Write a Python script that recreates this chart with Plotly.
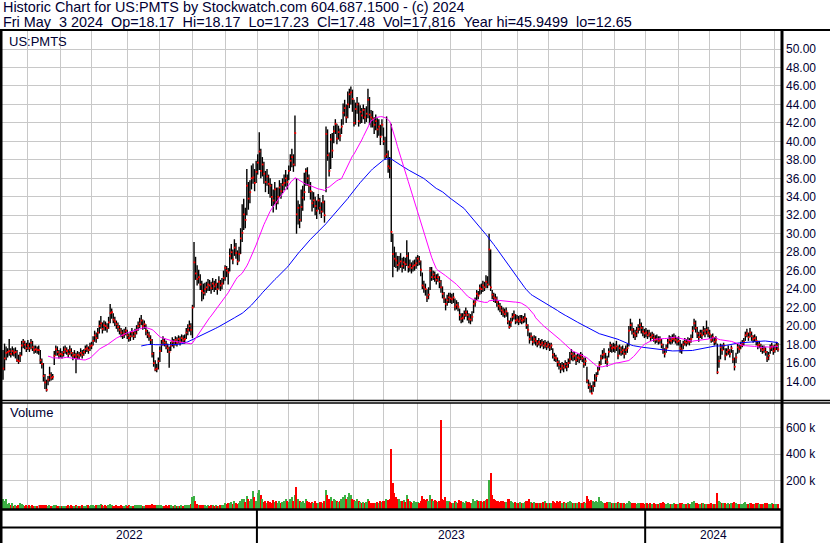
import plotly.graph_objects as go
import pandas as pd

# ---------------- DATA ----------------
close_2022 = [
    15.4, 16.5, 17.1, 17.2, 17.3, 17.0, 17.3, 17.1, 17.2, 16.3, 16.2, 16.8, 17.9, 18.3, 18.0, 17.6,
    17.9, 17.6, 18.2, 17.7, 17.4, 17.5, 17.4, 17.4, 16.3, 15.9, 14.6, 13.9, 13.1, 14.2, 14.7, 14.4, 14.5, 16.8, 17.5, 17.2, 16.9,
    17.0, 16.9, 17.2, 17.5, 17.3, 17.0, 17.4, 17.1, 16.8, 16.9, 16.6, 16.9, 16.8, 17.1, 16.9, 17.2, 17.5, 17.6, 17.4, 17.8,
    17.9, 18.4, 19.0, 18.7, 19.3, 20.0, 20.3, 19.7, 20.1, 20.0, 19.8, 20.4, 21.4, 21.5, 20.7, 20.5, 20.2, 19.9, 19.6, 19.3, 19.0, 19.2, 19.5,
    19.0, 18.7, 18.9, 19.3, 18.9, 19.2, 19.6, 20.0, 20.3, 20.6, 20.0, 20.2, 19.5, 19.1, 18.9, 18.5, 17.0, 16.0, 15.3, 15.4, 16.2,
    17.3, 18.0, 18.4, 18.2, 17.9, 17.6, 17.2, 17.9, 18.3, 18.0, 18.5, 18.2, 18.6, 18.3, 18.7, 18.5, 18.6, 19.3, 19.6, 20.0, 19.6,
    22.0, 26.9, 25.7, 25.1, 25.3, 24.5, 23.8, 23.6, 24.0, 24.2, 24.5, 24.4, 24.1, 24.6, 24.3, 24.5, 24.0, 24.8, 24.4, 24.6, 25.2,
    26.3, 26.0, 25.8, 27.6, 28.0, 27.2, 28.5, 27.9, 27.0, 27.8, 29.5, 30.1, 32.1, 31.5, 35.2, 33.8, 34.5, 36.0, 36.1, 35.5, 36.7,
]
high_2022 = [
    17.4, 18.1, 17.8, 17.6, 18.6, 17.6, 17.8, 17.6, 17.7, 17.4, 16.9, 17.2, 18.4, 18.6, 18.4, 18.2,
    18.5, 18.2, 18.6, 18.4, 17.9, 17.9, 17.8, 17.9, 17.4, 16.5, 16.0, 14.8, 14.2, 14.6, 15.6, 15.0, 14.8, 17.3, 17.9, 17.8, 17.4,
    17.6, 17.3, 17.8, 17.9, 17.7, 17.5, 17.9, 17.6, 17.2, 17.4, 17.1, 17.3, 17.2, 17.6, 17.4, 17.5, 17.9, 18.0, 17.8, 18.2,
    18.3, 18.9, 19.5, 19.3, 19.8, 20.6, 21.1, 20.4, 20.6, 20.5, 20.3, 21.0, 22.4, 21.9, 21.4, 21.0, 20.6, 20.4, 20.1, 19.8, 19.6, 19.7, 19.9,
    19.6, 19.2, 19.4, 19.8, 19.4, 19.7, 20.1, 20.5, 20.9, 21.2, 20.7, 20.6, 20.2, 19.6, 19.4, 19.0, 18.6, 17.2, 16.3, 15.9, 16.6,
    17.8, 18.5, 18.9, 18.7, 18.4, 18.1, 17.8, 18.3, 18.8, 18.6, 18.9, 18.8, 19.0, 18.9, 19.1, 19.0, 19.1, 19.8, 20.2, 20.6, 20.3,
    22.3, 29.1, 27.5, 26.6, 26.1, 25.6, 24.9, 24.6, 24.7, 24.8, 25.1, 25.0, 24.8, 25.2, 24.9, 25.1, 24.7, 25.4, 25.0, 25.2, 26.0,
    26.6, 26.5, 26.3, 28.4, 28.9, 28.3, 29.4, 29.0, 28.2, 28.6, 30.6, 33.2, 33.8, 32.8, 37.0, 35.6, 35.8, 37.4, 37.6, 37.0, 37.9,
]
low_2022 = [
    14.2, 15.2, 16.3, 16.6, 16.8, 16.6, 16.8, 16.7, 16.5, 16.1, 15.9, 16.1, 16.8, 17.6, 17.5, 17.2,
    17.4, 17.2, 17.5, 17.3, 17.0, 17.1, 17.0, 16.9, 15.9, 15.4, 14.0, 13.2, 12.9, 13.6, 14.0, 14.1, 14.2, 15.8, 16.8, 16.8, 16.5,
    16.6, 16.5, 16.7, 17.0, 16.9, 16.6, 16.9, 16.7, 16.3, 16.5, 14.9, 16.4, 16.4, 16.7, 16.5, 16.8, 17.0, 17.2, 17.0, 17.3,
    17.5, 17.9, 18.3, 18.2, 18.6, 19.2, 19.7, 19.2, 19.5, 19.5, 19.3, 19.7, 20.3, 20.8, 20.3, 20.0, 19.7, 19.4, 19.1, 18.8, 18.6, 18.7, 19.0,
    18.6, 18.3, 18.4, 18.8, 18.5, 18.7, 19.1, 19.5, 19.8, 20.1, 19.6, 19.7, 19.0, 18.7, 18.4, 18.0, 16.6, 15.6, 15.1, 15.0, 15.3,
    16.1, 17.2, 17.9, 17.8, 17.5, 17.1, 15.5, 17.3, 17.8, 17.6, 17.9, 17.8, 18.1, 17.9, 18.2, 18.1, 18.1, 18.6, 19.0, 19.4, 19.0,
    18.7, 22.0, 25.0, 24.4, 24.6, 23.9, 22.7, 22.9, 23.3, 23.6, 23.8, 23.8, 23.5, 23.9, 23.7, 23.9, 23.4, 24.0, 23.8, 24.0, 24.5,
    24.9, 25.3, 24.5, 25.9, 27.2, 26.7, 27.6, 27.3, 26.6, 27.0, 27.8, 29.1, 30.4, 30.6, 32.0, 32.6, 33.3, 34.8, 35.4, 34.6, 35.5,
]
close_2023 = [
    37.7, 38.9, 36.8, 37.5, 36.5, 35.6, 36.2, 35.4, 35.2, 34.0, 33.6, 34.8, 33.4, 34.0, 35.0, 34.6, 35.3, 35.5, 36.0, 35.6,
    36.8, 37.9, 38.3, 37.5, 40.9, 32.1, 32.8, 31.5, 32.9, 33.9, 34.5, 36.8, 36.0, 35.2, 34.6, 33.3, 33.6, 33.0, 32.5,
    33.6, 32.8, 32.4, 33.4, 32.0, 40.8, 38.5, 36.8, 40.2, 39.0, 41.1, 41.9, 40.3, 41.0, 40.6, 41.6, 43.1, 43.6, 42.6, 44.0, 45.1, 45.3, 44.6,
    42.0, 43.5, 44.0, 42.2, 43.2, 42.8, 43.4, 42.6, 43.0, 44.5, 42.9, 42.6, 42.4, 41.8, 42.2, 41.3, 41.6, 40.5, 41.8,
    40.0, 38.4, 38.6, 37.3, 37.1, 30.2, 27.8, 27.3, 27.1, 26.6, 26.8, 27.0, 26.5, 26.9, 26.7, 27.6, 26.4, 26.6, 26.3, 26.5, 26.6, 26.8,
    27.3, 27.0, 26.1, 24.4, 24.2, 24.0, 23.1, 23.4, 26.0, 25.3, 25.6, 25.3, 25.0, 25.3, 24.8, 24.2, 23.5, 23.0, 22.4, 22.8, 23.1,
    23.0, 22.9, 23.1, 22.1, 22.3, 22.1, 21.2, 20.8, 20.9, 21.2, 21.5, 21.2, 20.8, 20.7, 21.0, 22.4, 22.6, 23.5, 23.3, 24.1,
    24.0, 24.4, 24.2, 24.8, 24.5, 28.3, 24.2, 23.4, 23.1, 23.0, 22.6, 22.2, 22.0, 21.7, 21.5, 21.3, 21.6, 20.5, 19.9, 20.4, 21.0, 21.2, 20.6,
    20.7, 20.5, 20.8, 20.6, 20.7, 20.9, 20.1, 19.6, 18.6, 18.9, 18.3, 18.6, 18.4, 18.1, 18.3, 18.0, 18.2, 17.9, 18.1, 17.8,
    18.0, 17.7, 17.9, 16.9, 16.6, 16.5, 16.1, 15.8, 15.4, 15.7, 15.5, 15.9, 15.6, 16.0, 16.4, 17.0, 16.7, 16.8, 16.3, 16.6, 16.5, 16.8,
    16.5, 15.9, 16.2, 14.1, 13.6, 13.2, 12.7, 13.5, 14.1, 14.6, 15.2, 15.8, 16.5, 16.9, 17.0, 16.4, 16.1, 17.2, 17.9, 17.6, 17.7,
    17.6, 17.8, 16.8, 17.6, 17.2, 17.4, 17.0, 17.4, 17.6, 19.5, 20.1, 19.6, 19.2, 19.0, 19.4, 19.7, 20.1, 19.8, 19.4, 19.2,
]
high_2023 = [
    38.6, 41.0, 39.2, 38.3, 37.8, 36.8, 37.0, 36.4, 36.0, 35.4, 34.8, 35.6, 35.0, 35.0, 35.8, 35.5, 36.0, 36.4, 36.9, 36.4,
    37.4, 38.6, 39.2, 38.6, 42.8, 36.0, 33.6, 33.2, 34.8, 35.2, 36.6, 37.1, 37.2, 36.4, 35.6, 34.6, 34.5, 34.0, 33.6,
    34.3, 33.9, 33.4, 34.2, 33.6, 41.6, 41.3, 38.8, 40.8, 40.9, 41.7, 42.4, 41.9, 41.7, 41.4, 42.4, 44.1, 44.5, 44.0, 45.4, 45.7, 45.95, 45.6,
    44.5, 44.2, 44.8, 44.2, 43.9, 43.6, 44.0, 43.6, 43.8, 45.7, 44.8, 43.4, 43.3, 42.6, 42.9, 42.5, 42.4, 41.8, 42.4,
    41.5, 40.5, 42.7, 39.0, 38.3, 41.9, 30.0, 28.6, 28.0, 27.6, 27.6, 27.9, 27.4, 27.5, 27.4, 29.3, 28.0, 27.2, 26.9, 27.1, 27.2, 27.5,
    27.7, 27.6, 27.1, 25.8, 24.9, 24.6, 24.0, 24.2, 26.4, 26.4, 26.0, 25.9, 25.6, 25.7, 25.4, 25.0, 24.3, 23.7, 23.0, 23.4, 23.6,
    23.6, 23.5, 23.6, 23.0, 22.8, 22.6, 21.9, 21.4, 21.4, 21.7, 22.0, 21.7, 21.4, 21.3, 21.6, 22.8, 23.1, 23.9, 23.8, 24.5,
    24.6, 24.9, 24.8, 25.5, 25.4, 30.0, 28.3, 23.9, 23.6, 23.5, 23.2, 22.7, 22.5, 22.2, 22.0, 21.9, 22.0, 21.5, 20.6, 20.9, 21.4, 21.7, 21.3,
    21.2, 21.1, 21.2, 21.2, 21.1, 21.4, 20.9, 20.2, 19.3, 19.3, 18.9, 19.0, 18.9, 18.5, 18.7, 18.5, 18.6, 18.4, 18.5, 18.3,
    18.4, 18.2, 18.2, 17.6, 17.1, 16.9, 16.6, 16.3, 16.0, 16.1, 16.0, 16.3, 16.1, 16.5, 17.2, 17.5, 17.2, 17.2, 16.9, 17.0, 17.0, 17.2,
    17.0, 16.6, 16.6, 15.6, 14.2, 13.9, 13.6, 14.0, 14.8, 15.0, 15.6, 16.2, 16.9, 17.4, 17.6, 17.1, 16.8, 17.6, 18.3, 18.1, 18.2,
    18.1, 18.4, 17.9, 18.0, 17.8, 17.9, 17.6, 17.9, 18.1, 20.0, 20.8, 20.4, 19.8, 19.6, 19.9, 20.2, 20.8, 20.4, 20.0, 19.7,
]
low_2023 = [
    36.4, 36.9, 36.0, 36.2, 35.4, 34.5, 35.2, 34.3, 33.9, 33.0, 32.3, 33.2, 32.6, 33.2, 34.0, 33.8, 34.4, 34.7, 35.1, 34.8,
    35.8, 36.8, 37.2, 36.7, 37.3, 30.0, 31.0, 30.6, 31.3, 32.5, 33.6, 35.2, 35.2, 34.4, 33.7, 32.4, 32.8, 32.0, 31.6,
    32.6, 32.1, 31.7, 32.3, 31.2, 34.5, 37.9, 36.2, 37.0, 38.2, 39.8, 40.8, 39.7, 40.2, 40.0, 40.8, 41.8, 42.7, 42.0, 42.5, 43.6, 44.0, 43.2,
    41.6, 41.8, 43.0, 41.6, 41.9, 42.0, 42.4, 41.9, 42.1, 42.5, 41.8, 41.5, 41.5, 40.8, 41.2, 40.4, 40.6, 39.6, 40.6,
    39.6, 38.0, 38.2, 36.6, 36.0, 29.1, 25.3, 26.4, 26.3, 25.9, 26.1, 26.3, 25.8, 26.2, 26.0, 26.5, 25.8, 25.9, 25.7, 25.9, 26.0, 26.2,
    26.5, 26.6, 25.4, 24.0, 23.6, 23.3, 22.6, 22.9, 23.9, 24.9, 25.0, 24.8, 24.5, 24.8, 24.1, 23.6, 23.0, 22.5, 21.7, 22.2, 22.5,
    22.5, 22.4, 22.5, 21.7, 21.8, 21.6, 20.6, 20.3, 20.4, 20.7, 21.0, 20.6, 20.3, 20.2, 20.5, 21.4, 22.1, 22.8, 22.9, 23.4,
    23.5, 23.7, 23.8, 24.1, 24.1, 24.4, 23.8, 22.9, 22.6, 22.5, 22.1, 21.7, 21.5, 21.2, 21.0, 20.9, 21.0, 20.2, 19.7, 19.9, 20.5, 20.7, 20.2,
    20.3, 20.1, 20.3, 20.2, 20.3, 20.4, 19.7, 18.9, 18.1, 18.4, 17.9, 18.1, 17.9, 17.7, 17.9, 17.6, 17.8, 17.5, 17.6, 17.4,
    17.6, 17.3, 17.4, 16.5, 16.2, 16.1, 15.6, 15.3, 14.9, 15.2, 15.0, 15.4, 15.1, 15.5, 15.9, 16.3, 16.2, 16.3, 15.8, 16.1, 16.0, 16.3,
    16.1, 15.5, 15.7, 13.8, 13.2, 12.8, 12.65, 12.9, 13.4, 14.0, 14.7, 15.2, 15.8, 16.4, 16.5, 15.9, 15.6, 16.6, 17.2, 17.1, 17.2,
    17.1, 17.3, 16.4, 16.9, 16.8, 16.9, 16.5, 16.9, 17.1, 17.8, 19.5, 19.1, 18.7, 18.5, 18.8, 19.2, 19.5, 19.2, 18.9, 18.7,
]
close_2024 = [
    19.3, 19.0, 19.2, 18.8, 19.0, 18.7, 18.5, 18.6, 18.4, 18.5, 18.0, 17.4, 17.0, 17.6, 18.2, 18.5, 18.4, 18.6, 18.7, 18.5, 18.3,
    18.4, 17.6, 17.4, 18.0, 18.3, 18.2, 18.4, 18.3, 18.6, 19.5, 20.3, 19.8, 19.2, 18.8, 19.2, 19.0, 19.5, 19.2, 19.6, 19.3,
    19.1, 18.5, 18.8, 18.3, 18.5, 15.0, 16.2, 17.7, 17.4, 17.9, 16.8, 17.2, 17.4, 17.0, 17.6, 16.4, 15.6, 16.6, 17.7, 17.5,
    17.9, 18.1, 18.3, 19.0, 19.2, 18.8, 19.3, 18.9, 18.6, 18.7, 18.4, 17.9, 18.0, 17.6, 17.4, 17.5, 17.2, 16.5, 16.8, 17.6, 17.8, 17.3,
    17.5, 17.9, 17.48,
]
high_2024 = [
    19.8, 19.6, 19.6, 19.3, 19.4, 19.2, 19.0, 19.1, 18.9, 18.9, 18.6, 18.1, 17.6, 18.0, 18.6, 19.0, 18.9, 19.1, 19.2, 19.0, 18.8,
    18.9, 18.5, 18.1, 18.4, 18.7, 18.6, 18.8, 18.7, 19.1, 20.0, 20.8, 20.6, 19.9, 19.4, 19.6, 19.6, 20.0, 19.8, 20.6, 19.9,
    19.6, 19.1, 19.2, 18.8, 18.9, 18.1, 16.8, 18.1, 18.0, 18.2, 17.6, 17.6, 17.9, 17.5, 17.9, 17.4, 16.6, 17.1, 18.1, 18.0,
    18.3, 18.5, 18.7, 19.4, 19.7, 19.3, 19.8, 19.4, 19.0, 19.1, 18.9, 18.4, 18.4, 18.1, 17.9, 17.9, 17.7, 17.3, 17.2, 18.0, 18.2, 17.9,
    18.0, 18.3, 18.17,
]
low_2024 = [
    18.8, 18.6, 18.8, 18.4, 18.6, 18.3, 18.1, 18.2, 18.0, 18.1, 17.6, 17.0, 16.6, 17.1, 17.6, 18.1, 18.0, 18.1, 18.3, 18.1, 17.9,
    17.9, 17.1, 17.0, 17.5, 17.9, 17.8, 18.0, 17.9, 18.2, 18.7, 19.6, 19.3, 18.7, 18.3, 18.7, 18.6, 19.0, 18.8, 19.1, 18.8,
    18.6, 18.2, 18.3, 17.9, 18.0, 14.8, 15.5, 16.4, 16.9, 17.4, 16.3, 16.8, 16.9, 16.6, 17.1, 16.0, 15.2, 16.0, 17.0, 17.1,
    17.5, 17.7, 17.9, 18.4, 18.8, 18.4, 18.8, 18.4, 18.2, 18.3, 17.9, 17.5, 17.6, 17.2, 17.0, 17.1, 16.8, 16.1, 16.3, 17.0, 17.3, 16.9,
    17.1, 17.4, 17.23,
]
# volume in thousands of shares
volk_2022 = [
    58, 45, 60, 22, 30, 12, 25, 8, 10, 6, 14, 25, 20, 12, 8, 10,
    6, 9, 5, 12, 8, 4, 6, 9, 14, 10, 16, 12, 9, 7, 11, 6, 8, 14, 9, 7, 5,
    6, 4, 8, 5, 7, 9, 6, 10, 8, 5, 12, 7, 4, 6, 9, 5, 8, 14, 10, 6,
    9, 12, 8, 15, 11, 14, 18, 9, 7, 12, 8, 16, 20, 10, 8, 6, 9, 5, 7, 10, 6, 8, 12,
    7, 9, 5, 8, 6, 10, 12, 9, 15, 11, 8, 6, 10, 14, 9, 12, 18, 16, 13, 10, 14,
    12, 10, 8, 6, 9, 7, 16, 11, 8, 6, 9, 7, 5, 8, 10, 6, 9, 14, 12, 10, 20,
    76, 84, 40, 18, 12, 10, 14, 9, 12, 8, 10, 6, 9, 12, 7, 10, 8, 6, 11, 9, 14,
    25, 22, 30, 28, 38, 22, 40, 26, 20, 24, 45, 60, 55, 38, 80, 60, 42, 58, 122, 70, 45,
]
volk_2023 = [
    100, 128, 85, 60, 35, 40, 28, 45, 38, 30, 50, 35, 42, 30, 45, 28, 35, 40, 60, 45,
    38, 55, 70, 45, 90, 150, 60, 45, 38, 42, 30, 60, 40, 32, 28, 35, 25, 40, 30,
    28, 32, 35, 25, 40, 130, 90, 55, 70, 45, 60, 50, 40, 35, 45, 55, 70, 90, 60, 75, 100, 85, 60,
    50, 45, 60, 40, 35, 30, 38, 28, 32, 55, 40, 30, 25, 30, 28, 35, 30, 40, 35,
    40, 45, 60, 50, 55, 435, 180, 100, 70, 60, 55, 45, 40, 50, 38, 85, 60, 40, 35, 30, 45, 38,
    35, 30, 45, 80, 60, 50, 55, 40, 90, 60, 45, 50, 40, 35, 45, 660, 60, 50, 70, 45, 40,
    35, 30, 28, 45, 38, 30, 50, 45, 35, 30, 40, 32, 38, 30, 28, 60, 45, 50, 40, 45,
    40, 35, 45, 50, 60, 200, 255, 90, 60, 50, 45, 40, 35, 45, 40, 38, 35, 60, 55, 40, 35, 30, 38,
    30, 28, 35, 30, 25, 32, 40, 45, 55, 38, 30, 35, 28, 30, 25, 30, 28, 35, 40, 30,
    25, 30, 28, 45, 35, 30, 40, 38, 45, 30, 35, 28, 30, 32, 40, 35, 28, 25, 30, 28, 35, 30,
    30, 35, 28, 80, 60, 45, 50, 40, 35, 45, 38, 70, 40, 35, 30, 28, 32, 38, 35, 30, 28,
    25, 30, 35, 28, 30, 25, 28, 22, 30, 40, 35, 30, 25, 28, 22, 30, 28, 25, 30, 22,
]
volk_2024 = [
    25, 30, 22, 28, 20, 25, 18, 22, 20, 25, 30, 35, 28, 22, 25, 20, 18, 22, 25, 20, 18,
    22, 28, 25, 20, 18, 22, 25, 20, 22, 35, 40, 30, 25, 22, 20, 25, 28, 22, 20, 18,
    20, 25, 22, 18, 20, 100, 45, 35, 28, 25, 30, 22, 25, 20, 28, 30, 35, 25, 22, 20,
    18, 20, 25, 35, 22, 20, 25, 30, 22, 18, 25, 30, 20, 22, 18, 20, 25, 28, 22, 20, 25, 18,
    20, 22, 17.8,
]
nyse_holidays = ["2022-05-30", "2022-06-20", "2022-07-04", "2022-09-05", "2022-11-24", "2022-12-26",
                 "2023-01-02", "2023-01-16", "2023-02-20", "2023-04-07", "2023-05-29", "2023-06-19",
                 "2023-07-04", "2023-09-04", "2023-11-23", "2023-12-25", "2024-01-01", "2024-01-15",
                 "2024-02-19", "2024-03-29"]
price_ticks = [14, 16, 18, 20, 22, 24, 26, 28, 30, 32, 34, 36, 38, 40, 42, 44, 46, 48, 50]
volume_ticks = [200000, 400000, 600000]
volume_tick_text = ["200 k", "400 k", "600 k"]
header_1 = "Historic Chart for US:PMTS by Stockwatch.com 604.687.1500 - (c) 2024"
header_2 = "Fri May  3 2024  Op=18.17  Hi=18.17  Lo=17.23  Cl=17.48  Vol=17,816  Year hi=45.9499  lo=12.65"
symbol = "US:PMTS"

# ---------------- BUILD ----------------
closes = close_2022 + close_2023 + close_2024
highs = high_2022 + high_2023 + high_2024
lows = low_2022 + low_2023 + low_2024
vols = [v * 1000 for v in (volk_2022 + volk_2023 + volk_2024)]
n = min(len(closes), len(highs), len(lows), len(vols))
dates = pd.bdate_range("2022-05-09", "2024-05-03", freq="C", holidays=nyse_holidays)
dates = list(dates[:n])
idx = list(range(n))

ma_fast = pd.Series(closes[:n]).rolling(30).mean()
ma_slow = pd.Series(closes[:n]).rolling(90).mean()
ma_fast = [None if pd.isna(v) else v for v in ma_fast]
ma_slow = [None if pd.isna(v) else v for v in ma_slow]

month_starts, year_starts = [], []
for i in range(1, n):
    if dates[i].month != dates[i - 1].month:
        month_starts.append(i)
        if dates[i].year != dates[i - 1].year:
            year_starts.append(i)

W, H = 830, 543
def px(xp):
    return xp / W
def py(yp):
    return 1 - yp / H

X_LEFT, X_RIGHT = 2, 781
BAR0, STEP = 3.0, 1.553
xr = [(X_LEFT - BAR0) / STEP, (X_RIGHT - BAR0) / STEP]
P_TOP, P_BOT = 31, 400
Y14, PPU = 381.5, 9.236
p_range = [14 - (P_BOT - Y14) / PPU, 14 + (Y14 - P_TOP) / PPU]
V_TOP, V_BOT = 403, 509
V0, VPP = 506.6, 200000 / 26.3
v_range = [-(V_BOT - V0) * VPP, (V0 - V_TOP) * VPP]

hl_x, hl_y = [], []
for i in idx:
    hl_x += [i, i, None]
    hl_y += [lows[i], highs[i], None]

vcolors = []
for i in idx:
    if i == 0 or closes[i] > closes[i - 1]:
        vcolors.append("#3cb043")
    elif closes[i] < closes[i - 1]:
        vcolors.append("#ff0000")
    else:
        vcolors.append("#a0a0a0")

TXT = "#000033"
FONT = "Arial, Liberation Sans, sans-serif"

fig = go.Figure()
fig.add_trace(go.Scatter(x=hl_x, y=hl_y, mode="lines", line=dict(color="black", width=1.4),
                         hoverinfo="skip", xaxis="x", yaxis="y"))
fig.add_trace(go.Scatter(x=[i + 0.2 for i in idx], y=closes[:n], mode="markers",
                         marker=dict(symbol="square", size=1.8, color="#ff0000", line=dict(width=0)),
                         hoverinfo="skip", xaxis="x", yaxis="y"))
fig.add_trace(go.Scatter(x=idx, y=ma_slow, mode="lines", line=dict(color="#0000ff", width=1),
                         hoverinfo="skip", xaxis="x", yaxis="y"))
fig.add_trace(go.Scatter(x=idx, y=ma_fast, mode="lines", line=dict(color="#ff00ff", width=1),
                         hoverinfo="skip", xaxis="x", yaxis="y"))
fig.add_trace(go.Bar(x=idx, y=[v - v_range[0] for v in vols[:n]], base=v_range[0],
                     marker=dict(color=vcolors, line=dict(width=0)), width=0.8,
                     hoverinfo="skip", xaxis="x2", yaxis="y2"))

grid = dict(showgrid=True, gridcolor="#c8c8c8", gridwidth=1, zeroline=False, showline=False)
xcommon = dict(domain=[px(X_LEFT), px(X_RIGHT)], range=xr, tickvals=month_starts,
               showticklabels=False, ticks="", **grid)
fig.update_layout(
    width=W, height=H, margin=dict(l=0, r=0, t=0, b=0),
    paper_bgcolor="white", plot_bgcolor="white", showlegend=False, hovermode=False,
    bargap=0,
    xaxis=dict(anchor="y", **xcommon),
    xaxis2=dict(anchor="y2", **xcommon),
    yaxis=dict(domain=[py(P_BOT), py(P_TOP)], range=p_range, side="right", anchor="x",
               tickvals=price_ticks, ticktext=["%.2f" % v for v in price_ticks],
               ticks="", ticklabelstandoff=4, tickfont=dict(family=FONT, size=12, color=TXT), **grid),
    yaxis2=dict(domain=[py(V_BOT), py(V_TOP)], range=v_range, side="right", anchor="x2",
                tickvals=volume_ticks, ticktext=volume_tick_text,
                ticks="", ticklabelstandoff=4, tickfont=dict(family=FONT, size=12, color=TXT), **grid),
)

ann = []
ann.append(dict(text=header_1.replace(" ", "\u00a0"), x=px(1), y=py(7), xref="paper", yref="paper",
                xanchor="left", yanchor="middle", showarrow=False, font=dict(family=FONT, size=14.4, color=TXT)))
ann.append(dict(text=header_2.replace(" ", "\u00a0"), x=px(1), y=py(22), xref="paper", yref="paper",
                xanchor="left", yanchor="middle", showarrow=False, font=dict(family=FONT, size=14.4, color=TXT)))
ann.append(dict(text=symbol, x=px(7), y=py(41), xref="paper", yref="paper",
                xanchor="left", yanchor="middle", showarrow=False, font=dict(family=FONT, size=13, color=TXT)))
ann.append(dict(text="Volume", x=px(8), y=py(412), xref="paper", yref="paper",
                xanchor="left", yanchor="middle", showarrow=False, font=dict(family=FONT, size=13, color=TXT)))
bounds = [xr[0]] + [s - 0.5 for s in year_starts] + [xr[1]]
years = [dates[0].year] + [dates[s].year for s in year_starts]
for k, yr in enumerate(years):
    ann.append(dict(text=str(yr), x=(bounds[k] + bounds[k + 1]) / 2, y=py(535), xref="x2", yref="paper",
                    xanchor="center", yanchor="middle", showarrow=False,
                    font=dict(family=FONT, size=12, color=TXT)))
fig.update_layout(annotations=ann)

shapes = []
def pline(x0, y0, x1, y1, w):
    shapes.append(dict(type="line", xref="paper", yref="paper", x0=px(x0), y0=py(y0), x1=px(x1), y1=py(y1),
                       line=dict(color="black", width=w)))
pline(0, 30, W, 30, 2)
pline(0, 400.5, W, 400.5, 1.5)
pline(0, 403, W, 403, 1.5)
pline(0, 509.5, 782, 509.5, 2.5)
pline(0, 527.5, 782, 527.5, 2)
pline(1, 30, 1, H, 3)
pline(782, 30, 782, H, 3)
for s in year_starts:
    shapes.append(dict(type="line", xref="x2", yref="paper", x0=s - 0.5, x1=s - 0.5, y0=0, y1=py(509),
                       line=dict(color="black", width=2)))
fig.update_layout(shapes=shapes)

fig.write_html("out.html", config={"displayModeBar": False},
               post_script="document.body.style.margin='0';document.body.style.overflow='hidden';")
